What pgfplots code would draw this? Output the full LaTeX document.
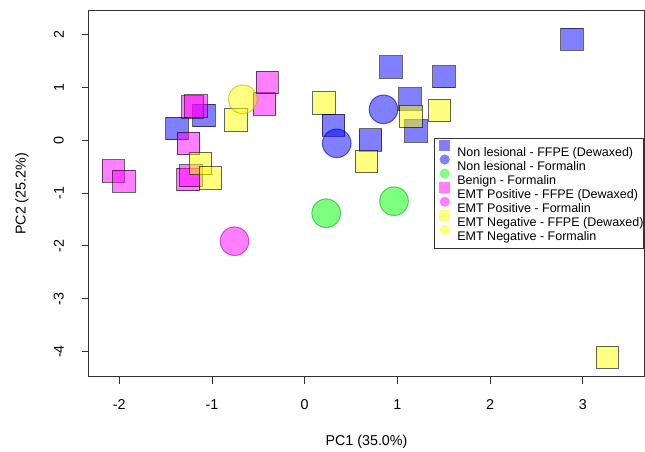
\documentclass[border=0pt]{standalone}
\usepackage{fontspec}
\setmainfont{Liberation Sans}
\usepackage{pgfplots}
\pgfplotsset{compat=1.18}
\definecolor{axgray}{gray}{0.2}
\definecolor{rblue}{RGB}{0,0,255}
\definecolor{rgreen}{RGB}{0,255,0}
\definecolor{rpink}{RGB}{255,0,255}
\definecolor{ryellow}{RGB}{255,255,0}
\pgfplotsset{
  sq/.style={only marks, mark=square*, mark size=11.2pt,
    mark options={fill=#1, fill opacity=0.5, draw=black, draw opacity=0.6, line width=1pt}},
  ci/.style={only marks, mark=*, mark size=14.3pt,
    mark options={fill=#1, fill opacity=0.5, draw=#1!70!black, draw opacity=0.6, line width=1pt}},
  lsq/.style={legend image code/.code={%
    \path[use as bounding box, draw=none] (-10.6pt,0pt) rectangle (12.7pt,1pt);
    \fill[draw=none, fill=#1, fill opacity=0.5] (-5.3pt,0.9pt) rectangle (5.3pt,11.5pt);}},
  lci/.style={legend image code/.code={%
    \path[use as bounding box, draw=none] (-10.6pt,0pt) rectangle (12.7pt,1pt);
    \fill[draw=none, fill=#1, fill opacity=0.5] (0pt,6.2pt) circle[radius=5.1pt];}},
}
\begin{document}
\begin{tikzpicture}
\path[use as bounding box] (-89pt,-75.3pt) rectangle (556pt,376.7pt);
\begin{axis}[
  at={(0pt,0pt)}, anchor=south west,
  scale only axis, width=555pt, height=365.7pt,
  xmin=-2.327, xmax=3.661, ymin=-4.477, ymax=2.449,
  axis line style={draw=axgray, line width=1pt},
  xtick={-2,-1,0,1,2,3}, xticklabels={-2,-1,0,1,2,3},
  ytick={-4,-3,-2,-1,0,1,2}, yticklabels={-4,-3,-2,-1,0,1,2},
  tick align=outside, major tick length=7pt, tick pos=left,
  tick style={draw=axgray, line width=0.9pt},
  xticklabel style={font=\fontsize{14.3}{16}\selectfont, anchor=center},
  xticklabel shift=21.3pt,
  yticklabel style={font=\fontsize{14.3}{16}\selectfont, rotate=90, anchor=south, inner xsep=0pt, inner ysep=18pt},
  xlabel={PC1 (35.0\%)}, ylabel={PC2 (25.2\%)},
  every axis x label/.style={at={([yshift=-65.3pt]axis description cs:0.5,0)}, anchor=center, font=\fontsize{14.3}{16}\selectfont},
  every axis y label/.style={at={([xshift=-67pt]axis description cs:0,0.5)}, rotate=90, anchor=center, font=\fontsize{14.3}{16}\selectfont},
  legend style={at={(1,0.5)}, anchor=east, draw=axgray, line width=0.9pt,
    inner xsep=0pt, inner ysep=5.8pt, row sep=0pt,
    font=\fontsize{12.5}{14}\selectfont,
    nodes={inner sep=0pt, text height=11.9pt, text depth=2.15pt}},
  legend cell align=left,
]
% Non lesional - FFPE (Dewaxed)
\addplot[sq=rblue, forget plot] coordinates {
(-1.378,0.220) (-1.087,0.466) (0.311,0.286) (0.933,1.392) (1.503,1.203)
(1.136,0.780) (1.199,0.180) (0.712,0.006) (2.884,1.913)};
% Non lesional - Formalin
\addplot[ci=rblue, forget plot] coordinates {(0.346,-0.057) (0.850,0.587)};
% Benign - Formalin
\addplot[ci=rgreen, forget plot] coordinates {(0.232,-1.381) (0.964,-1.153)};
% EMT Positive - FFPE (Dewaxed)
\addplot[sq=rpink, forget plot] coordinates {
(-2.065,-0.581) (-1.950,-0.775) (-1.208,0.634) (-1.173,0.646) (-1.254,-0.061)
(-1.259,-0.742) (-1.225,-0.672) (-0.432,0.684) (-0.404,1.091)};
% EMT Positive - Formalin
\addplot[ci=rpink, forget plot] coordinates {(-0.757,-1.911)};
% EMT Negative - FFPE (Dewaxed)
\addplot[sq=ryellow, forget plot] coordinates {
(-0.741,0.384) (-1.124,-0.443) (-1.014,-0.714) (0.208,0.706) (0.669,-0.407)
(1.149,0.455) (1.457,0.564) (3.265,-4.108)};
% EMT Negative - Formalin
\addplot[ci=ryellow, forget plot] coordinates {(-0.668,0.777)};

\addlegendimage{lsq=rblue}
\addlegendentry{Non lesional - FFPE (Dewaxed)\hspace{4pt}}
\addlegendimage{lci=rblue}
\addlegendentry{Non lesional - Formalin}
\addlegendimage{lci=rgreen}
\addlegendentry{Benign - Formalin}
\addlegendimage{lsq=rpink}
\addlegendentry{EMT Positive - FFPE (Dewaxed)}
\addlegendimage{lci=rpink}
\addlegendentry{EMT Positive - Formalin}
\addlegendimage{lsq=ryellow}
\addlegendentry{EMT Negative - FFPE (Dewaxed)}
\addlegendimage{lci=ryellow}
\addlegendentry{EMT Negative - Formalin}
\end{axis}
\end{tikzpicture}
\end{document}
